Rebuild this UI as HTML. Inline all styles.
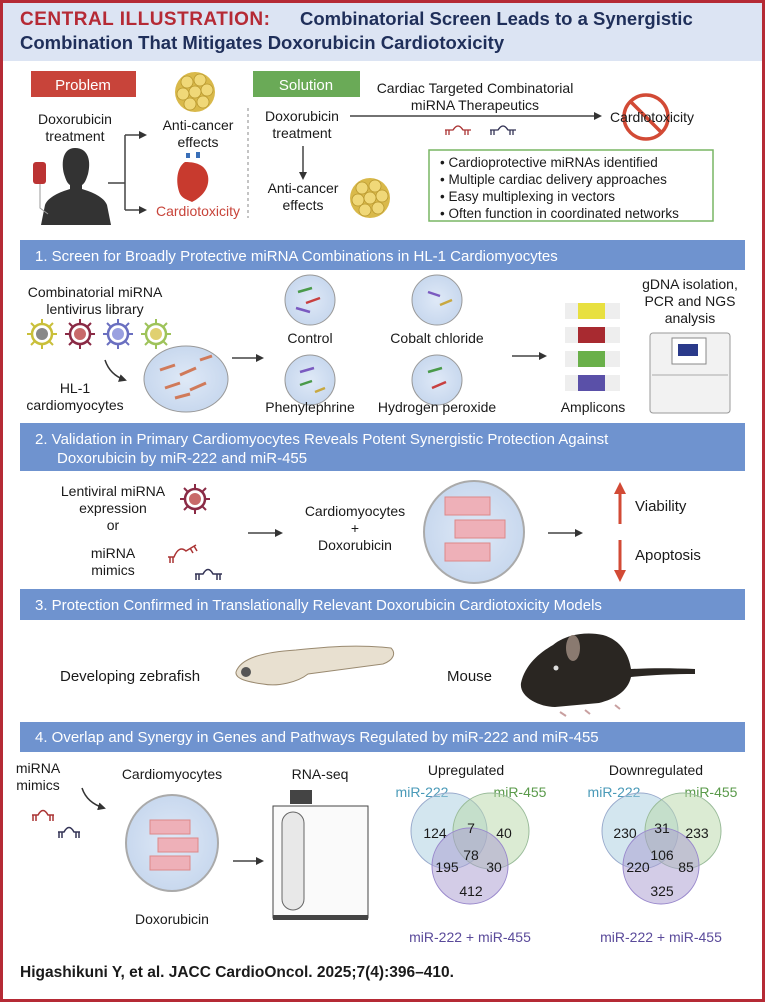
<!DOCTYPE html>
<html><head><meta charset="utf-8"><style>
html,body{margin:0;padding:0;background:#fff}
svg{display:block}
text{font-family:"Liberation Sans Narrow","Liberation Sans",sans-serif;fill:#1a1a1a}
.b{font-weight:bold}
</style></head><body>
<svg width="765" height="1002" viewBox="0 0 765 1002" xmlns="http://www.w3.org/2000/svg">
<defs>
<marker id="ah" markerWidth="8" markerHeight="8" refX="6" refY="4" orient="auto" markerUnits="userSpaceOnUse"><path d="M0,0 L8,4 L0,8 z" fill="#333"/></marker>
<marker id="ar" markerWidth="12" markerHeight="12" refX="8" refY="6" orient="auto" markerUnits="userSpaceOnUse"><path d="M0,0 L12,6 L0,12 z" fill="#d24a35"/></marker>
<radialGradient id="dish" cx="50%" cy="50%" r="50%"><stop offset="0" stop-color="#dfe9f7"/><stop offset="1" stop-color="#c8d8ee"/></radialGradient>
<g id="cluster"><circle cx="0" cy="0" r="20" fill="#d9b94a"/><g fill="#f0d878" stroke="#b8972e" stroke-width="0.8"><circle cx="-8" cy="-10" r="6"/><circle cx="5" cy="-12" r="6"/><circle cx="12" cy="-2" r="6"/><circle cx="-12" cy="2" r="6"/><circle cx="0" cy="0" r="6"/><circle cx="-5" cy="12" r="6"/><circle cx="8" cy="10" r="6"/></g></g>
<g id="virus"><g stroke-width="2"><line x1="-15" y1="0" x2="15" y2="0"/><line x1="0" y1="-15" x2="0" y2="15"/><line x1="-11" y1="-11" x2="11" y2="11"/><line x1="-11" y1="11" x2="11" y2="-11"/></g><circle r="10" stroke-width="2.5" fill="#fff"/><circle r="6" stroke="none"/></g>
</defs>
<rect x="1.5" y="1.5" width="762" height="999" fill="#fff" stroke="#b52a35" stroke-width="3"/>
<rect x="3" y="3" width="759" height="58" fill="#dce4f3"/>
<text x="20" y="25" font-size="19" class="b" style="fill:#b52a35;font-family:'Liberation Sans',sans-serif;letter-spacing:0.5px">CENTRAL ILLUSTRATION:</text>
<text x="300" y="25" font-size="18.5" class="b" style="fill:#1f2f5a">Combinatorial Screen Leads to a Synergistic</text>
<text x="20" y="49" font-size="18.5" class="b" style="fill:#1f2f5a">Combination That Mitigates Doxorubicin Cardiotoxicity</text>

<rect x="31" y="71" width="105" height="26" fill="#c8443a"/>
<text x="83" y="90" font-size="15" text-anchor="middle" style="fill:#fff">Problem</text>
<rect x="253" y="71" width="107" height="26" fill="#6aaa57"/>
<text x="306" y="90" font-size="15" text-anchor="middle" style="fill:#fff">Solution</text>
<text x="75" y="124" font-size="14" text-anchor="middle">Doxorubicin</text>
<text x="75" y="141" font-size="14" text-anchor="middle">treatment</text>
<path d="M75,148 c-12,0 -14,14 -11,26 c2,6 3,9 6,11 l0,4 c-10,3 -22,8 -25,16 l-4,20 l70,0 l-4,-20 c-3,-8 -15,-13 -25,-16 l0,-4 c3,-2 4,-5 6,-11 c3,-12 1,-26 -13,-26z" fill="#333"/>
<rect x="33" y="162" width="13" height="22" rx="3" fill="#b33"/><path d="M40,184 L40,208 L48,214" stroke="#999" fill="none"/>
<path d="M108,183 H125 M125,135 V210" stroke="#444" stroke-width="1.5" fill="none"/>
<path d="M125,135 H145" stroke="#444" stroke-width="1.5" marker-end="url(#ah)"/>
<path d="M125,210 H145" stroke="#444" stroke-width="1.5" marker-end="url(#ah)"/>
<use href="#cluster" x="195" y="92"/>
<text x="198" y="130" font-size="14" text-anchor="middle">Anti-cancer</text>
<text x="198" y="147" font-size="14" text-anchor="middle">effects</text>
<path d="M185,162 c-8,5 -10,20 -5,32 c3,5 8,6 12,8 c10,-5 18,-14 16,-26 c-2,-10 -10,-14 -23,-14z" fill="#c83a2e"/>
<path d="M188,158 v-5 M198,158 v-6" stroke="#3a6fb8" stroke-width="4"/>
<text x="198" y="216" font-size="14" text-anchor="middle" style="fill:#c8443a">Cardiotoxicity</text>
<line x1="248" y1="108" x2="248" y2="218" stroke="#888" stroke-dasharray="3,3"/>
<text x="302" y="121" font-size="14" text-anchor="middle">Doxorubicin</text>
<text x="302" y="138" font-size="14" text-anchor="middle">treatment</text>
<line x1="350" y1="116" x2="600" y2="116" stroke="#444" stroke-width="1.5" marker-end="url(#ah)"/>
<text x="475" y="93" font-size="14" text-anchor="middle">Cardiac Targeted Combinatorial</text>
<text x="475" y="110" font-size="14" text-anchor="middle">miRNA Therapeutics</text>
<path d="M445,130 h8 q5,-8 10,0 h8 M446,130 v5 M449,130 v5 M465,130 v5 M468,130 v5" stroke="#a33" stroke-width="1.3" fill="none"/>
<path d="M490,130 h8 q5,-8 10,0 h8 M491,130 v5 M494,130 v5 M510,130 v5 M513,130 v5" stroke="#335" stroke-width="1.3" fill="none"/>
<circle cx="646" cy="117" r="22" fill="none" stroke="#d24a35" stroke-width="3.5"/>
<line x1="631" y1="102" x2="661" y2="132" stroke="#d24a35" stroke-width="3.5"/>
<text x="652" y="122" font-size="14" text-anchor="middle">Cardiotoxicity</text>
<line x1="303" y1="146" x2="303" y2="178" stroke="#444" stroke-width="1.5" marker-end="url(#ah)"/>
<text x="303" y="193" font-size="14" text-anchor="middle">Anti-cancer</text>
<text x="303" y="210" font-size="14" text-anchor="middle">effects</text>
<use href="#cluster" x="370" y="198"/>
<rect x="429" y="150" width="284" height="71" fill="#fff" stroke="#79b564" stroke-width="1.5"/>
<g font-size="13.5"><text x="440" y="167">• Cardioprotective miRNAs identified</text>
<text x="440" y="184">• Multiple cardiac delivery approaches</text>
<text x="440" y="201">• Easy multiplexing in vectors</text>
<text x="440" y="218">• Often function in coordinated networks</text></g>

<rect x="20" y="240" width="725" height="30" fill="#6f93cf"/>
<text x="35" y="261" font-size="15" style="fill:#fff">1.  Screen for Broadly Protective miRNA Combinations in HL-1 Cardiomyocytes</text>
<text x="95" y="297" font-size="14" text-anchor="middle">Combinatorial miRNA</text>
<text x="95" y="314" font-size="14" text-anchor="middle">lentivirus library</text>
<use href="#virus" x="42" y="334" stroke="#c9bf3a" fill="#888"/>
<use href="#virus" x="80" y="334" stroke="#8a2a45" fill="#c86a6a"/>
<use href="#virus" x="118" y="334" stroke="#6a6fc0" fill="#9aa0e0"/>
<use href="#virus" x="156" y="334" stroke="#9ec35a" fill="#e0d070"/>
<path d="M105,360 q5,15 20,20" stroke="#333" stroke-width="1.5" fill="none" marker-end="url(#ah)"/>
<ellipse cx="186" cy="379" rx="42" ry="33" fill="url(#dish)" stroke="#999"/>
<g stroke="#d07a5a" stroke-width="3"><line x1="160" y1="370" x2="175" y2="365"/><line x1="180" y1="375" x2="196" y2="368"/><line x1="165" y1="388" x2="180" y2="383"/><line x1="190" y1="390" x2="206" y2="383"/><line x1="175" y1="398" x2="190" y2="394"/><line x1="200" y1="360" x2="212" y2="356"/></g>
<text x="75" y="393" font-size="14" text-anchor="middle">HL-1</text>
<text x="75" y="410" font-size="14" text-anchor="middle">cardiomyocytes</text>
<line x1="232" y1="358" x2="262" y2="358" stroke="#444" stroke-width="1.5" marker-end="url(#ah)"/>
<g fill="url(#dish)" stroke="#999"><circle cx="310" cy="300" r="25"/><circle cx="310" cy="380" r="25"/><circle cx="437" cy="300" r="25"/><circle cx="437" cy="380" r="25"/></g>
<g stroke-width="2.5"><g stroke="#4a9a4a"><line x1="298" y1="292" x2="312" y2="288"/><line x1="428" y1="372" x2="442" y2="368"/><line x1="300" y1="385" x2="312" y2="381"/></g><g stroke="#c84040"><line x1="306" y1="303" x2="320" y2="298"/><line x1="432" y1="388" x2="446" y2="382"/></g><g stroke="#7a5ac0"><line x1="296" y1="308" x2="310" y2="312"/><line x1="428" y1="292" x2="440" y2="296"/><line x1="300" y1="372" x2="314" y2="368"/></g><g stroke="#c8a840"><line x1="440" y1="305" x2="452" y2="300"/><line x1="315" y1="392" x2="325" y2="388"/></g></g>
<text x="310" y="343" font-size="14" text-anchor="middle">Control</text>
<text x="437" y="343" font-size="14" text-anchor="middle">Cobalt chloride</text>
<text x="310" y="412" font-size="14" text-anchor="middle">Phenylephrine</text>
<text x="437" y="412" font-size="14" text-anchor="middle">Hydrogen peroxide</text>
<line x1="512" y1="356" x2="545" y2="356" stroke="#444" stroke-width="1.5" marker-end="url(#ah)"/>
<g>
<rect x="565" y="303" width="55" height="16" fill="#eee"/><rect x="578" y="303" width="27" height="16" fill="#e8e040"/>
<rect x="565" y="327" width="55" height="16" fill="#eee"/><rect x="578" y="327" width="27" height="16" fill="#a82a30"/>
<rect x="565" y="351" width="55" height="16" fill="#eee"/><rect x="578" y="351" width="27" height="16" fill="#6ab04a"/>
<rect x="565" y="375" width="55" height="16" fill="#eee"/><rect x="578" y="375" width="27" height="16" fill="#5a50a8"/>
</g>
<text x="593" y="412" font-size="14" text-anchor="middle">Amplicons</text>
<text x="690" y="289" font-size="14" text-anchor="middle">gDNA isolation,</text>
<text x="690" y="306" font-size="14" text-anchor="middle">PCR and NGS</text>
<text x="690" y="323" font-size="14" text-anchor="middle">analysis</text>
<rect x="650" y="333" width="80" height="80" rx="3" fill="#f2f2f2" stroke="#999"/>
<rect x="672" y="338" width="34" height="26" fill="#fff" stroke="#888"/><rect x="678" y="344" width="20" height="12" fill="#2a3a8a"/>
<line x1="652" y1="375" x2="728" y2="375" stroke="#aaa"/>

<rect x="20" y="423" width="725" height="48" fill="#6f93cf"/>
<text x="35" y="444" font-size="15" style="fill:#fff">2.  Validation in Primary Cardiomyocytes Reveals Potent Synergistic Protection Against</text>
<text x="57" y="463" font-size="15" style="fill:#fff">Doxorubicin by miR-222 and miR-455</text>
<text x="113" y="496" font-size="14" text-anchor="middle">Lentiviral miRNA</text>
<text x="113" y="513" font-size="14" text-anchor="middle">expression</text>
<text x="113" y="530" font-size="14" text-anchor="middle">or</text>
<use href="#virus" x="195" y="499" stroke="#8a2a45" fill="#c86a6a"/>
<text x="113" y="558" font-size="14" text-anchor="middle">miRNA</text>
<text x="113" y="575" font-size="14" text-anchor="middle">mimics</text>
<path d="M168,557 h6 q5,-12 12,-6 l10,-6 M170,557 v6 M173,557 v6 M190,548 l3,5 M194,546 l3,5" stroke="#a33" stroke-width="1.5" fill="none"/>
<path d="M195,574 h8 q5,-9 10,0 h9 M196,574 v6 M199,574 v6 M217,574 v6 M220,574 v6" stroke="#335" stroke-width="1.5" fill="none"/>
<line x1="248" y1="533" x2="281" y2="533" stroke="#444" stroke-width="1.5" marker-end="url(#ah)"/>
<text x="355" y="516" font-size="14" text-anchor="middle">Cardiomyocytes</text>
<text x="355" y="533" font-size="14" text-anchor="middle">+</text>
<text x="355" y="550" font-size="14" text-anchor="middle">Doxorubicin</text>
<ellipse cx="474" cy="532" rx="50" ry="51" fill="url(#dish)" stroke="#aaa" stroke-width="2"/>
<g fill="#eeb0b8" stroke="#d88"><rect x="445" y="497" width="45" height="18"/><rect x="455" y="520" width="50" height="18"/><rect x="445" y="543" width="45" height="18"/></g>
<line x1="548" y1="533" x2="581" y2="533" stroke="#444" stroke-width="1.5" marker-end="url(#ah)"/>
<line x1="620" y1="524" x2="620" y2="486" stroke="#d24a35" stroke-width="3" marker-end="url(#ar)"/>
<text x="635" y="511" font-size="15">Viability</text>
<line x1="620" y1="540" x2="620" y2="578" stroke="#d24a35" stroke-width="3" marker-end="url(#ar)"/>
<text x="635" y="560" font-size="15">Apoptosis</text>

<rect x="20" y="589" width="725" height="31" fill="#6f93cf"/>
<text x="35" y="610" font-size="15" style="fill:#fff">3.  Protection Confirmed in Translationally Relevant Doxorubicin Cardiotoxicity Models</text>
<text x="60" y="681" font-size="15">Developing zebrafish</text>
<path d="M236,672 c5,-15 30,-20 60,-22 c30,-3 60,-6 95,-2 c5,5 3,12 -8,16 c-30,4 -60,8 -75,10 c-10,8 -30,13 -45,10 c-15,-2 -28,-5 -27,-12z" fill="#e8e0d0" stroke="#9a8a70"/>
<circle cx="246" cy="672" r="5" fill="#555"/>
<text x="447" y="681" font-size="15">Mouse</text>
<path d="M521,683 c4,-18 18,-30 32,-38 c12,-10 32,-14 50,-10 c18,5 26,20 28,34 c20,-1 40,-1 64,0 l0,5 c-22,0 -44,1 -64,3 c-3,14 -16,22 -32,26 l-44,4 c-16,0 -36,-10 -34,-24z" fill="#2a2622"/>
<ellipse cx="573" cy="648" rx="7" ry="13" fill="#8a7a70"/>
<circle cx="556" cy="668" r="2.5" fill="#ddd"/>
<path d="M560,712 l6,4 M585,710 l5,4 M615,705 l5,4" stroke="#c9a0a0" stroke-width="2"/>

<rect x="20" y="722" width="725" height="30" fill="#6f93cf"/>
<text x="35" y="742" font-size="15" style="fill:#fff">4.  Overlap and Synergy in Genes and Pathways Regulated by miR-222 and miR-455</text>
<text x="38" y="773" font-size="14" text-anchor="middle">miRNA</text>
<text x="38" y="790" font-size="14" text-anchor="middle">mimics</text>
<path d="M32,815 h6 q5,-9 10,0 h6 M33,815 v6 M36,815 v6 M50,815 v6 M53,815 v6" stroke="#a33" stroke-width="1.5" fill="none"/>
<path d="M58,832 h6 q5,-9 10,0 h6 M59,832 v6 M62,832 v6 M76,832 v6 M79,832 v6" stroke="#335" stroke-width="1.5" fill="none"/>
<path d="M82,788 q5,15 22,20" stroke="#333" stroke-width="1.5" fill="none" marker-end="url(#ah)"/>
<text x="172" y="779" font-size="14" text-anchor="middle">Cardiomyocytes</text>
<ellipse cx="172" cy="843" rx="46" ry="48" fill="url(#dish)" stroke="#aaa" stroke-width="2"/>
<g fill="#eeb0b8" stroke="#d88"><rect x="150" y="820" width="40" height="14"/><rect x="158" y="838" width="40" height="14"/><rect x="150" y="856" width="40" height="14"/></g>
<text x="172" y="924" font-size="14" text-anchor="middle">Doxorubicin</text>
<line x1="233" y1="861" x2="262" y2="861" stroke="#444" stroke-width="1.5" marker-end="url(#ah)"/>
<text x="320" y="779" font-size="14" text-anchor="middle">RNA-seq</text>
<rect x="290" y="790" width="22" height="14" fill="#444"/>
<rect x="273" y="806" width="95" height="112" fill="#fafafa" stroke="#444"/>
<rect x="282" y="812" width="22" height="98" rx="11" fill="#e8e8e8" stroke="#666"/>
<rect x="273" y="915" width="95" height="5" fill="#444"/>

<text x="466" y="775" font-size="14" text-anchor="middle">Upregulated</text>
<text x="422" y="797" font-size="14" text-anchor="middle" style="fill:#4a9ab8">miR-222</text>
<text x="520" y="797" font-size="14" text-anchor="middle" style="fill:#5a9a4a">miR-455</text>
<circle cx="449" cy="831" r="38" fill="#a8cde0" fill-opacity="0.5" stroke="#9ac"/>
<circle cx="491" cy="831" r="38" fill="#b8d8a8" fill-opacity="0.5" stroke="#9b9"/>
<circle cx="470" cy="866" r="38" fill="#a89ad0" fill-opacity="0.5" stroke="#98c"/>
<g font-size="14" text-anchor="middle"><text x="435" y="838">124</text><text x="471" y="833">7</text><text x="504" y="838">40</text><text x="471" y="860">78</text><text x="447" y="872">195</text><text x="494" y="872">30</text><text x="471" y="896">412</text></g>
<text x="470" y="942" font-size="14" text-anchor="middle" style="fill:#5a4a9a">miR-222 + miR-455</text>

<text x="656" y="775" font-size="14" text-anchor="middle">Downregulated</text>
<text x="614" y="797" font-size="14" text-anchor="middle" style="fill:#4a9ab8">miR-222</text>
<text x="711" y="797" font-size="14" text-anchor="middle" style="fill:#5a9a4a">miR-455</text>
<circle cx="640" cy="831" r="38" fill="#a8cde0" fill-opacity="0.5" stroke="#9ac"/>
<circle cx="683" cy="831" r="38" fill="#b8d8a8" fill-opacity="0.5" stroke="#9b9"/>
<circle cx="661" cy="866" r="38" fill="#a89ad0" fill-opacity="0.5" stroke="#98c"/>
<g font-size="14" text-anchor="middle"><text x="625" y="838">230</text><text x="662" y="833">31</text><text x="697" y="838">233</text><text x="662" y="860">106</text><text x="638" y="872">220</text><text x="686" y="872">85</text><text x="662" y="896">325</text></g>
<text x="661" y="942" font-size="14" text-anchor="middle" style="fill:#5a4a9a">miR-222 + miR-455</text>

<text x="20" y="977" font-size="15.5" class="b" style="font-family:'Liberation Sans',sans-serif">Higashikuni Y, et al. JACC CardioOncol. 2025;7(4):396–410.</text>
</svg>
</body></html>
